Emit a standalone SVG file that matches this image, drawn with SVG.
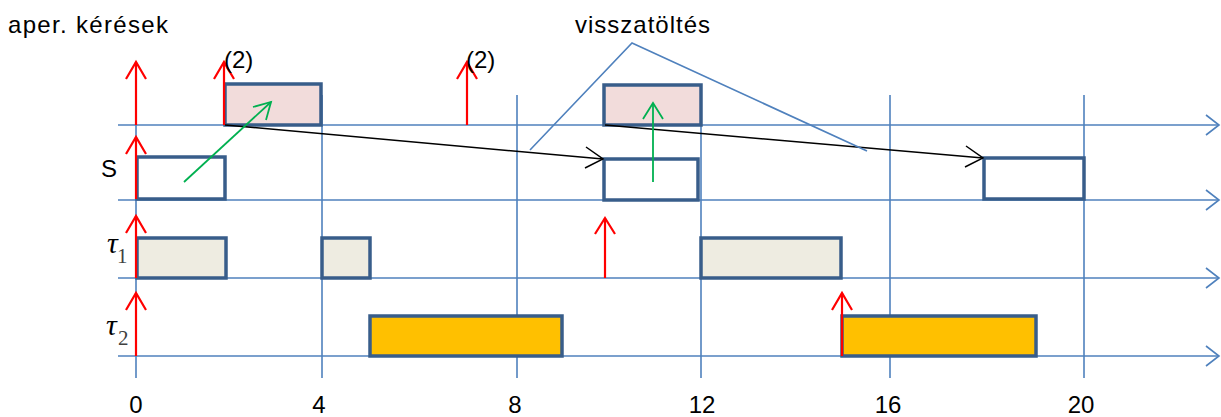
<svg xmlns="http://www.w3.org/2000/svg" width="1221" height="417" viewBox="0 0 1221 417">
<style>
.ax{stroke:#4F81BD;stroke-width:1.6;fill:none}
.ah{stroke:#4F81BD;stroke-width:1.6;fill:none}
.box{stroke:#385D8A;stroke-width:3.5}
.ap{fill:#F2DCDB}
.srv{fill:#FFFFFF}
.t1{fill:#EEECE1}
.t2{fill:#FFC000}
.rel{stroke:#FF0000;stroke-width:2.2;fill:none}
.blk{stroke:#000;stroke-width:1.5;fill:none}
.grn{stroke:#00B050;stroke-width:1.8;fill:none}
.call{stroke:#4F81BD;stroke-width:1.6;fill:none}
.lbl{font-family:"Liberation Sans",Arial,sans-serif;font-size:24px;fill:#000}
.num{font-family:"Liberation Sans",Arial,sans-serif;font-size:24px;fill:#000;text-anchor:middle}
.tau{font-family:"Liberation Serif","Times New Roman",serif;font-style:italic;font-size:30px;fill:#000}
.sub{font-family:"Liberation Serif","Times New Roman",serif;font-size:21px;fill:#404040}
</style>
<g id="grid">
<line class="ax" x1="136" y1="95" x2="136" y2="378"/>
<line class="ax" x1="322" y1="95" x2="322" y2="378"/>
<line class="ax" x1="517" y1="95" x2="517" y2="378"/>
<line class="ax" x1="701" y1="95" x2="701" y2="378"/>
<line class="ax" x1="890" y1="95" x2="890" y2="378"/>
<line class="ax" x1="1084" y1="95" x2="1084" y2="378"/>
</g>
<g id="axes">
<line class="ax" x1="118" y1="125" x2="1219" y2="125"/>
<polyline class="ah" points="1206,115 1219,125 1206,135"/>
<line class="ax" x1="118" y1="200" x2="1219" y2="200"/>
<polyline class="ah" points="1206,190 1219,200 1206,210"/>
<line class="ax" x1="118" y1="278" x2="1219" y2="278"/>
<polyline class="ah" points="1206,268 1219,278 1206,288"/>
<line class="ax" x1="118" y1="356" x2="1219" y2="356"/>
<polyline class="ah" points="1206,346 1219,356 1206,366"/>
</g>
<g id="aper-box-1"><rect class="box ap" x="225" y="84" width="96" height="41"/></g>
<g id="aper-box-2"><rect class="box ap" x="604" y="85" width="97" height="40"/></g>
<g id="s-box-1"><rect class="box srv" x="137" y="157" width="88" height="42"/></g>
<g id="s-box-2"><rect class="box srv" x="604" y="159" width="94" height="41"/></g>
<g id="s-box-3"><rect class="box srv" x="984" y="158" width="100" height="41"/></g>
<g id="t1-box-1"><rect class="box t1" x="137" y="238" width="89" height="40"/></g>
<g id="t1-box-2"><rect class="box t1" x="322" y="238" width="48" height="40"/></g>
<g id="t1-box-3"><rect class="box t1" x="701" y="238" width="140" height="40"/></g>
<g id="t2-box-1"><rect class="box t2" x="370" y="316" width="192" height="40"/></g>
<g id="t2-box-2"><rect class="box t2" x="842" y="316" width="194" height="40"/></g>
<g id="connectors">
<g id="releases">
<line class="rel" x1="136" y1="125" x2="136" y2="62"/><polyline class="rel" points="126,79 136,62 146,79"/>
<line class="rel" x1="224" y1="125" x2="224" y2="62"/><polyline class="rel" points="214,79 224,62 234,79"/>
<line class="rel" x1="467" y1="125" x2="467" y2="62"/><polyline class="rel" points="457,79 467,62 477,79"/>
<line class="rel" x1="136" y1="199" x2="136" y2="137"/><polyline class="rel" points="126,154 136,137 146,154"/>
<line class="rel" x1="136" y1="278" x2="136" y2="216"/><polyline class="rel" points="126,233 136,216 146,233"/>
<line class="rel" x1="605" y1="278" x2="605" y2="218"/><polyline class="rel" points="595,234 605,218 615,234"/>
<line class="rel" x1="136" y1="356" x2="136" y2="293"/><polyline class="rel" points="126,310 136,293 146,310"/>
<line class="rel" x1="842" y1="356" x2="842" y2="293"/><polyline class="rel" points="832,310 842,293 852,310"/>
</g>
<line class="blk" x1="225" y1="125" x2="603" y2="159"/>
<polyline class="blk" points="586,147 603,159 585,168"/>
<line class="blk" x1="605" y1="125" x2="983" y2="158"/>
<polyline class="blk" points="966,146 983,158 965,167"/>
<line class="grn" x1="184" y1="182" x2="271" y2="102"/>
<polyline class="grn" points="253,107 271,102 266,120"/>
<line class="grn" x1="653" y1="182" x2="653" y2="103"/>
<polyline class="grn" points="643,119 653,103 663,119"/>
<polyline class="call" points="530,150 632,43 867,151"/>
</g>
<g id="labels">
<text class="lbl" x="8" y="33" textLength="160">aper. kérések</text>
<text class="lbl" x="575" y="33" textLength="135">visszatöltés</text>
<text class="lbl" x="224" y="68">(2)</text>
<text class="lbl" x="466" y="68">(2)</text>
<text class="lbl" x="101" y="177">S</text>
<text class="tau" x="107" y="253">τ</text><text class="sub" x="117" y="263">1</text>
<text class="tau" x="106" y="335">τ</text><text class="sub" x="118" y="345">2</text>
<text class="num" x="136" y="413">0</text>
<text class="num" x="319" y="413">4</text>
<text class="num" x="515" y="413">8</text>
<text class="num" x="702" y="413">12</text>
<text class="num" x="888" y="413">16</text>
<text class="num" x="1081" y="413">20</text>
</g>
</svg>
